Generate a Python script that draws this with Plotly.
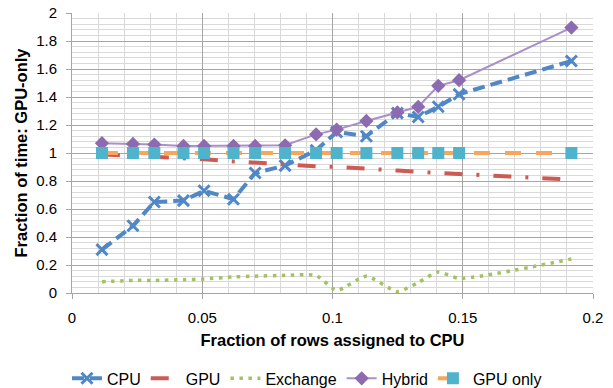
import plotly.graph_objects as go

x_frac = [0.0115, 0.0234, 0.0316, 0.0428, 0.0507, 0.0620, 0.0703, 0.0818,
          0.0937, 0.1016, 0.1130, 0.1249, 0.1329, 0.1406, 0.1486, 0.1917]
cpu = [0.31, 0.48, 0.65, 0.66, 0.73, 0.67, 0.857, 0.91,
       1.02, 1.15, 1.12, 1.285, 1.257, 1.33, 1.42, 1.657]
gpu = [0.99, 0.98, 0.975, 0.96, 0.955, 0.94, 0.93, 0.92,
       0.905, 0.90, 0.89, 0.875, 0.865, 0.86, 0.85, 0.81]
exchange = [0.08, 0.09, 0.09, 0.095, 0.10, 0.115, 0.12, 0.126,
            0.125, 0.02, 0.12, 0.01, 0.075, 0.15, 0.105, 0.243]
hybrid = [1.07, 1.065, 1.06, 1.05, 1.05, 1.05, 1.05, 1.055,
          1.133, 1.167, 1.229, 1.29, 1.33, 1.48, 1.52, 1.896]
gpu_only = [1.0] * 16

x_ticks = [0, 0.05, 0.1, 0.15, 0.2]
x_ticktext = ["0", "0.05", "0.1", "0.15", "0.2"]
y_ticks = [0, 0.2, 0.4, 0.6, 0.8, 1.0, 1.2, 1.4, 1.6, 1.8, 2.0]
y_ticktext = ["0", "0.2", "0.4", "0.6", "0.8", "1", "1.2", "1.4", "1.6", "1.8", "2"]

FONT = "Liberation Sans, Arial, sans-serif"

fig = go.Figure()
fig.add_trace(go.Scatter(
    x=x_frac, y=cpu, name="CPU", mode="lines+markers",
    line=dict(color="#5087C7", width=4, dash="12px,6px"),
    marker=dict(symbol="x-thin", size=11, color="#5087C7",
                line=dict(color="#5087C7", width=3))))
fig.add_trace(go.Scatter(
    x=x_frac, y=gpu, name="GPU", mode="lines",
    line=dict(color="#CD5B53", width=4, dash="18px,14px,3px,14px")))
fig.add_trace(go.Scatter(
    x=x_frac, y=exchange, name="Exchange", mode="lines",
    line=dict(color="#A3C262", width=3.5, dash="3.5px,5.5px", shape="spline", smoothing=0.6)))
fig.add_trace(go.Scatter(
    x=x_frac, y=hybrid, name="Hybrid", mode="lines+markers",
    line=dict(color="#A890C8", width=2),
    marker=dict(symbol="diamond", size=11, color="#8C6BB0")))
fig.add_trace(go.Scatter(
    x=x_frac, y=gpu_only, name="GPU only", mode="lines+markers",
    line=dict(color="#F9A65A", width=4, dash="16px,15px"),
    marker=dict(symbol="square", size=12, color="#4FB3CC")))

axis_common = dict(
    showline=True, linecolor="#A6A6A6", linewidth=1,
    ticks="outside", ticklen=5, tickcolor="#A6A6A6",
    showgrid=True, gridcolor="#A6A6A6", gridwidth=1,
    zeroline=False, automargin=False,
    tickfont=dict(family=FONT, size=15, color="#000000"),
)

fig.update_xaxes(
    range=[0, 0.2], tickvals=x_ticks, ticktext=x_ticktext,
    minor=dict(dtick=0.01, showgrid=True, gridcolor="#D9D9D9", gridwidth=1, ticks=""),
    title=dict(text="<b>Fraction of rows assigned to CPU</b>",
               font=dict(family=FONT, size=16.5, color="#000000"), standoff=9),
    ticklabelstandoff=6,
    **axis_common)
fig.update_yaxes(
    range=[0, 2], tickvals=y_ticks, ticktext=y_ticktext,
    minor=dict(dtick=0.04, showgrid=True, gridcolor="#D9D9D9", gridwidth=1, ticks=""),
    title=dict(text="<b>Fraction of time: GPU-only</b>",
               font=dict(family=FONT, size=16.5, color="#000000"), standoff=4),
    ticklabelstandoff=6,
    **axis_common)

fig.update_layout(
    width=613, height=388,
    margin=dict(l=72, r=20, t=13, b=95, autoexpand=False),
    paper_bgcolor="white", plot_bgcolor="white",
    font=dict(family=FONT, size=16, color="#000000"),
    showlegend=True,
    legend=dict(orientation="h", x=0.451, xanchor="center", y=-0.305, yanchor="middle",
                font=dict(family=FONT, size=16, color="#000000"),
                itemwidth=30, tracegroupgap=0, bgcolor="rgba(0,0,0,0)"),
)

fig.write_html("out.html")
